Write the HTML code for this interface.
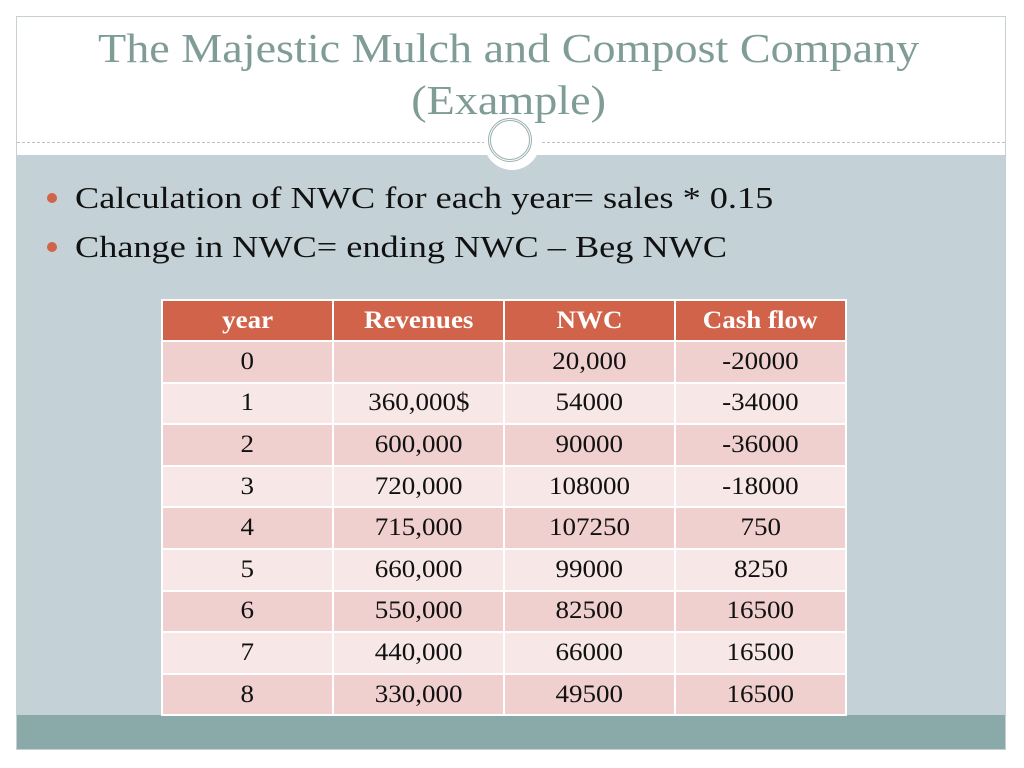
<!DOCTYPE html>
<html><head><meta charset="utf-8">
<style>
html,body{margin:0;padding:0;width:1024px;height:768px;background:#fff;overflow:hidden;font-family:"Liberation Serif",serif;}
#frame{position:absolute;left:16px;top:16px;width:990px;height:734px;border:1px solid #c8cfd0;box-sizing:border-box;}
#header{position:absolute;left:17px;top:17px;width:988px;height:138px;background:#fff;}
#title{position:absolute;left:17px;top:22px;width:988px;text-align:center;color:#7f9c97;font-size:41px;line-height:52px;transform:scaleX(1.125);transform-origin:513px 0;}
#dash{position:absolute;left:17px;top:142px;width:988px;border-top:1px dashed #b8c2c4;}
#body{position:absolute;left:17px;top:155px;width:988px;height:560px;background:#c4d2d7;}
#footer{position:absolute;left:17px;top:715px;width:988px;height:34px;background:#89aaa9;}
#circ{position:absolute;left:484px;top:114px;width:56px;height:56px;border-radius:50%;background:#fff;}
#ring{position:absolute;left:488px;top:118px;width:44px;height:44px;border-radius:50%;border:3px double #9aaeae;box-sizing:border-box;}
.bullet{position:absolute;left:75px;font-size:31px;color:#111;line-height:36px;white-space:nowrap;transform:scaleX(1.17);transform-origin:0 0;}
.dot{position:absolute;left:47px;width:10px;height:10px;border-radius:50%;background:#d0634a;}
#tbl{position:absolute;left:161px;top:299px;border-collapse:collapse;table-layout:fixed;}
#tbl td{width:169px;height:39.6px;border:2px solid #fff;text-align:center;font-size:25px;color:#111;padding:0;}
#tbl td span{display:inline-block;transform:scaleX(1.08);}
#tbl tr.hd td{background:#d0634a;color:#fff;font-weight:bold;height:39px;}
#tbl tr.odd td{background:#efd0cf;}
#tbl tr.even td{background:#f7e7e7;}
</style></head><body>
<div id="frame"></div>
<div id="header"></div>
<div id="title">The Majestic Mulch and Compost Company<br>(Example)</div>
<div id="dash"></div>
<div id="body"></div>
<div id="footer"></div>
<div id="circ"></div>
<div id="ring"></div>
<div class="dot" style="top:193px"></div>
<div class="bullet" style="top:180px">Calculation of NWC for each year= sales * 0.15</div>
<div class="dot" style="top:242px"></div>
<div class="bullet" style="top:229px">Change in NWC= ending NWC – Beg NWC</div>
<table id="tbl"><tbody id="tb"></tbody></table>
<script>
const headers = ["year","Revenues","NWC","Cash flow"];
const years = ["0","1","2","3","4","5","6","7","8"];
const revenues = ["","360,000$","600,000","720,000","715,000","660,000","550,000","440,000","330,000"];
const nwc = ["20,000","54000","90000","108000","107250","99000","82500","66000","49500"];
const cashFlow = ["-20000","-34000","-36000","-18000","750","8250","16500","16500","16500"];
const tb = document.getElementById('tb');
const hr = document.createElement('tr');
hr.className = 'hd';


headers.forEach(h => {
  const td = document.createElement('td');
  const s = document.createElement('span');
  s.textContent = h;
  td.appendChild(s);
  
  
  hr.appendChild(td);
});
tb.appendChild(hr);
years.forEach((y, i) => {
  const tr = document.createElement('tr');
  tr.className = i % 2 === 0 ? 'odd' : 'even';
  
  
  [y, revenues[i], nwc[i], cashFlow[i]].forEach((v, j) => {
    const td = document.createElement('td');
    const s = document.createElement('span');
    s.textContent = v;
    td.appendChild(s);
    
    
    tr.appendChild(td);
  });
  tb.appendChild(tr);
});
</script>
</body></html>
